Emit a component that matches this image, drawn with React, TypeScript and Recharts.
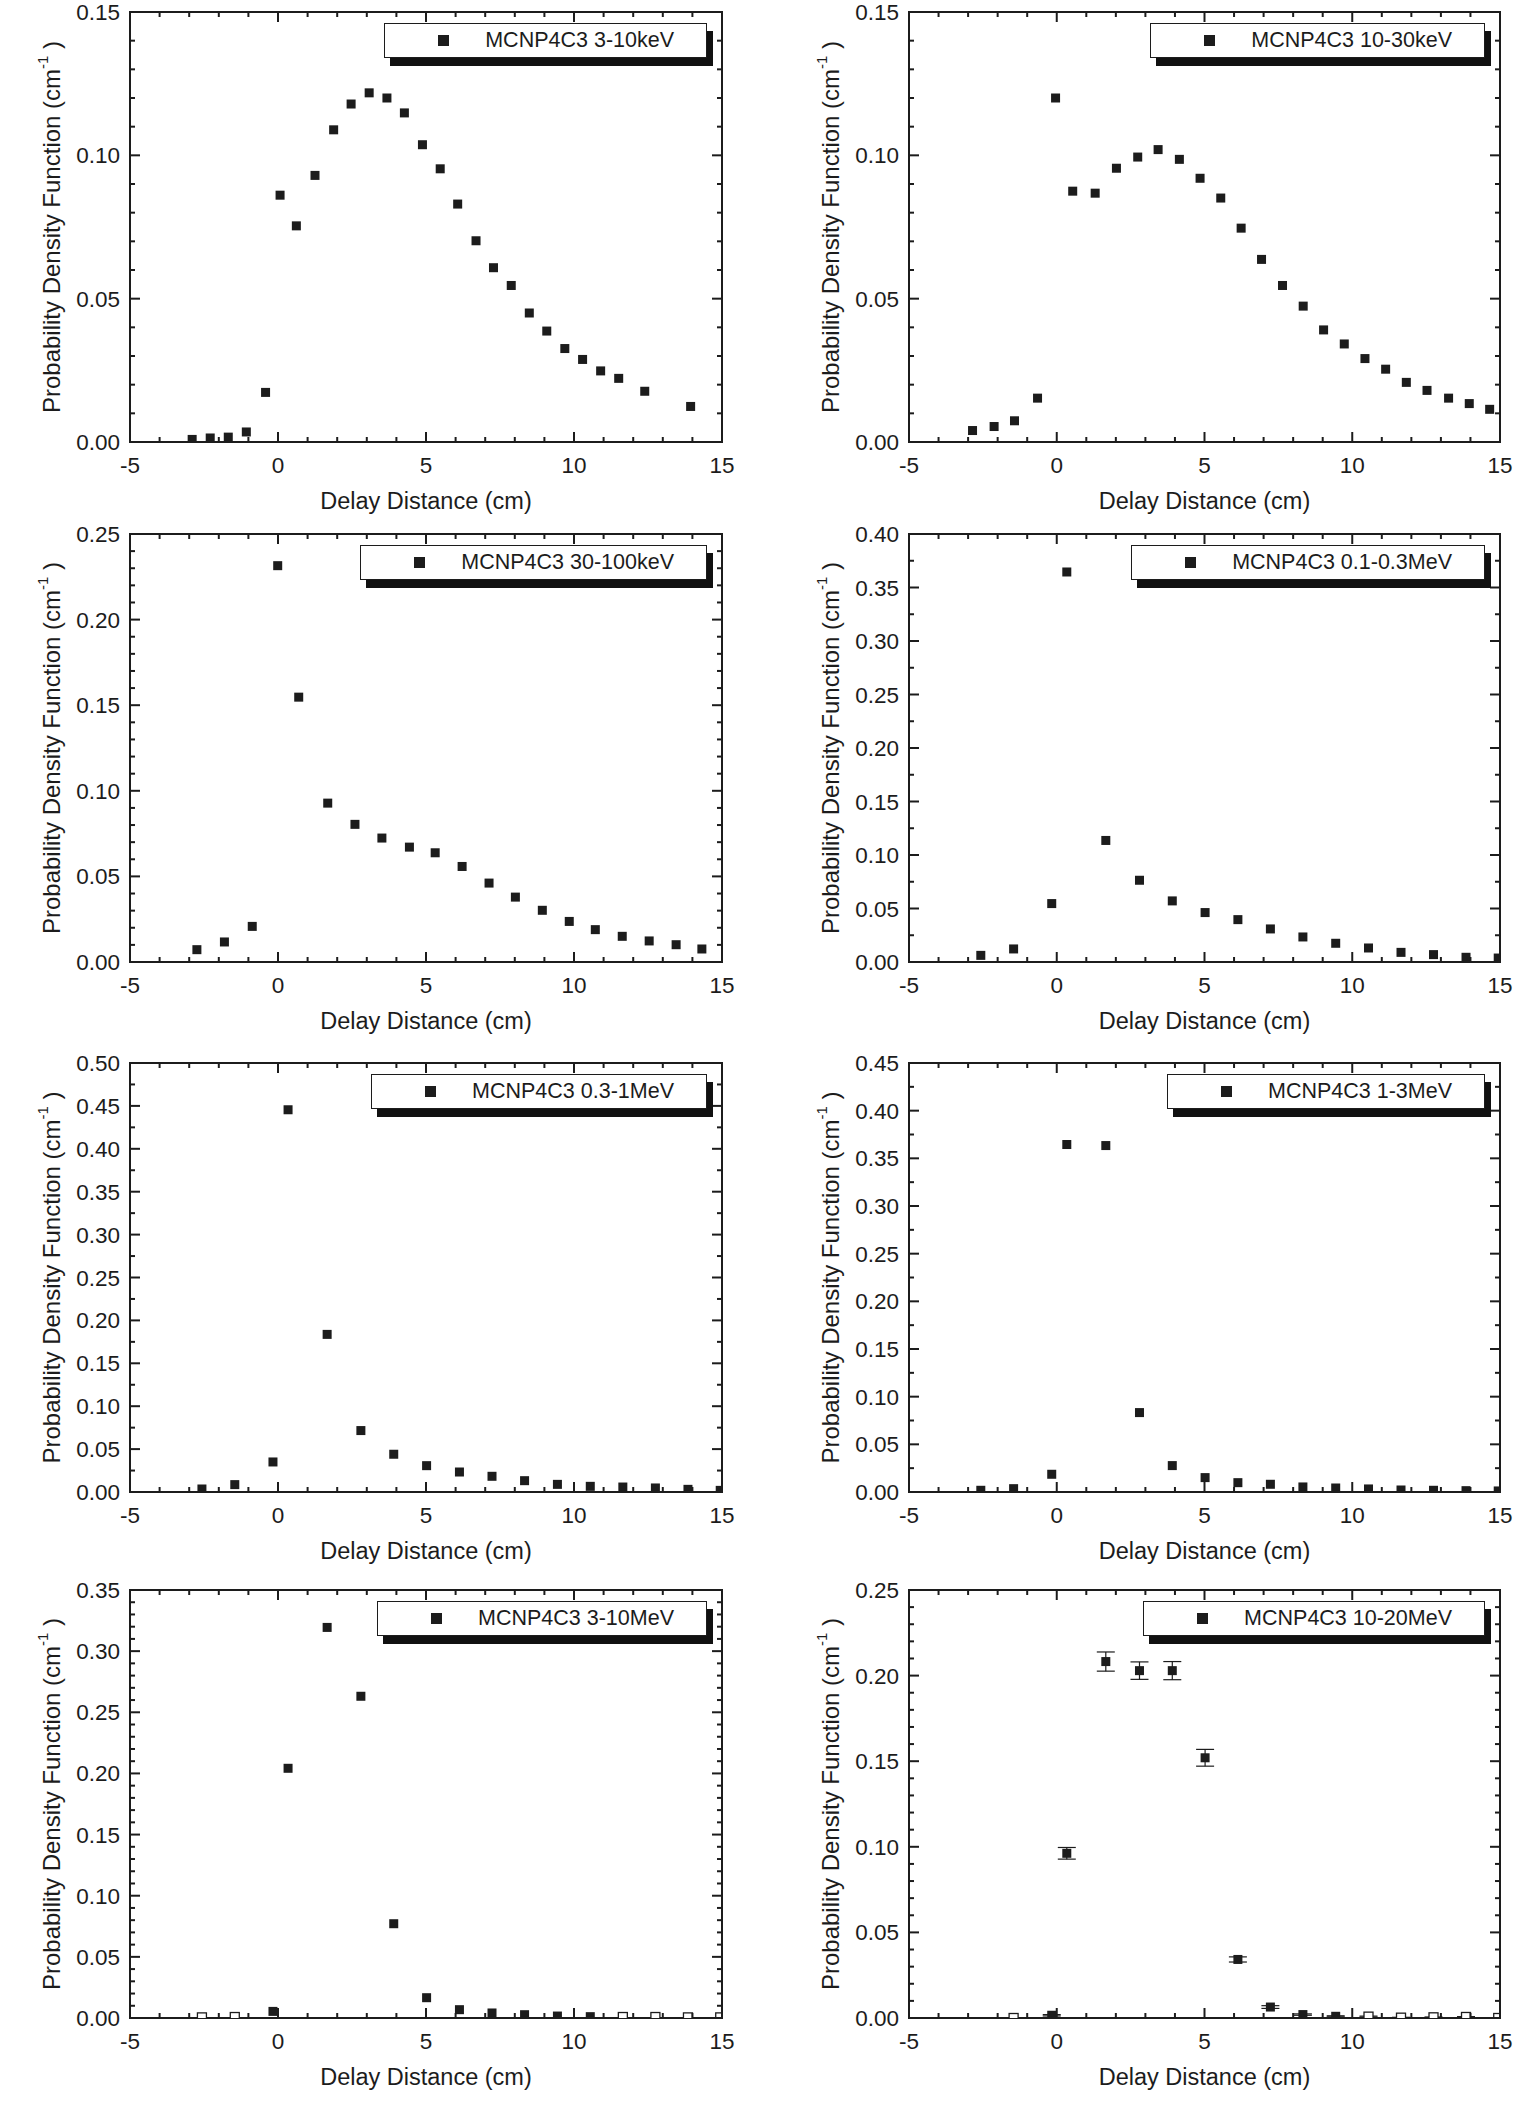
import React from "react";
import { ErrorBar, Legend, ReferenceArea, Scatter, ScatterChart, XAxis, YAxis } from "recharts";

const INK = "#1c1c1c";
const FONT = '"Liberation Sans", Arial, Helvetica, sans-serif';

// delay distance (cm) and probability density (1/cm), keV bands
const delay3to10keV = [-2.9, -2.29, -1.68, -1.07, -0.42, 0.07, 0.62, 1.25, 1.88, 2.47, 3.08, 3.68, 4.27, 4.88, 5.48, 6.07, 6.69, 7.28, 7.88, 8.49, 9.08, 9.69, 10.29, 10.9, 11.51, 12.39, 13.94];
const pdf3to10keV = [0.0009, 0.0014, 0.0017, 0.0035, 0.0173, 0.0861, 0.0754, 0.093, 0.1089, 0.1179, 0.1218, 0.12, 0.1148, 0.1037, 0.0953, 0.083, 0.0702, 0.0608, 0.0546, 0.045, 0.0387, 0.0326, 0.0288, 0.0248, 0.0222, 0.0177, 0.0124];

const delay10to30keV = [-2.85, -2.12, -1.43, -0.65, -0.04, 0.54, 1.3, 2.02, 2.74, 3.43, 4.15, 4.85, 5.55, 6.24, 6.93, 7.64, 8.34, 9.03, 9.73, 10.43, 11.13, 11.83, 12.53, 13.26, 13.96, 14.65];
const pdf10to30keV = [0.004, 0.0054, 0.0074, 0.0153, 0.12, 0.0875, 0.0868, 0.0955, 0.0994, 0.102, 0.0986, 0.092, 0.0851, 0.0746, 0.0637, 0.0546, 0.0474, 0.0391, 0.0342, 0.0291, 0.0254, 0.0208, 0.018, 0.0153, 0.0134, 0.0114];

const delay30to100keV = [-2.74, -1.81, -0.87, -0.01, 0.7, 1.68, 2.6, 3.51, 4.44, 5.31, 6.22, 7.13, 8.02, 8.93, 9.84, 10.72, 11.63, 12.54, 13.45, 14.32];
const pdf30to100keV = [0.0072, 0.0117, 0.0208, 0.2315, 0.1547, 0.0928, 0.0804, 0.0724, 0.0671, 0.0638, 0.0558, 0.0461, 0.0379, 0.0302, 0.0237, 0.0189, 0.015, 0.0123, 0.0101, 0.0076];

// MeV bands share one delay grid
const delayMeV = [-2.57, -1.46, -0.17, 0.34, 1.66, 2.8, 3.91, 5.02, 6.13, 7.23, 8.33, 9.44, 10.55, 11.65, 12.75, 13.85, 14.94];
const pdf01to03MeV = [0.0062, 0.0122, 0.0546, 0.3645, 0.1136, 0.0764, 0.0571, 0.0462, 0.0396, 0.0309, 0.0234, 0.0175, 0.0131, 0.009, 0.0069, 0.0044, 0.0037];
const pdf03to1MeV = [0.0035, 0.0086, 0.035, 0.4455, 0.1837, 0.0716, 0.044, 0.0307, 0.0233, 0.0183, 0.0132, 0.0089, 0.0066, 0.0058, 0.0047, 0.0031, 0.0019];
const pdf1to3MeV = [0.0018, 0.0035, 0.0186, 0.3645, 0.3634, 0.0833, 0.0277, 0.0151, 0.0098, 0.0081, 0.0053, 0.0042, 0.0032, 0.0021, 0.0018, 0.0014, 0.0011];
const pdf3to10MeV = [0.0005, 0.0008, 0.0054, 0.2042, 0.3194, 0.2631, 0.0771, 0.0166, 0.0068, 0.0041, 0.0027, 0.0016, 0.0011, 0.0008, 0.0008, 0.0005, 0.0005];

const delay10to20MeV = delayMeV.slice(1);
const pdf10to20MeV = [0.0, 0.0016, 0.0962, 0.2082, 0.2029, 0.2029, 0.152, 0.0342, 0.0064, 0.002, 0.001, 0.0008, 0.0002, 0.0004, 0.0006, 0.0];
const err10to20MeV = [0, 0.0004, 0.0034, 0.0056, 0.0051, 0.0053, 0.0049, 0.0015, 0.0008, 0.0004, 0.0003, 0.0003, 0.0002, 0.0002, 0.0002, 0];

const xTicks = [-5, -4, -3, -2, -1, 0, 1, 2, 3, 4, 5, 6, 7, 8, 9, 10, 11, 12, 13, 14, 15];
const xMajor = [-5, 0, 5, 10, 15];

const panels = [
  { name: "MCNP4C3 3-10keV", x: delay3to10keV, y: pdf3to10keV, yMax: 0.15, yMinor: 0.01 },
  { name: "MCNP4C3 10-30keV", x: delay10to30keV, y: pdf10to30keV, yMax: 0.15, yMinor: 0.01 },
  { name: "MCNP4C3 30-100keV", x: delay30to100keV, y: pdf30to100keV, yMax: 0.25, yMinor: 0.01 },
  { name: "MCNP4C3 0.1-0.3MeV", x: delayMeV, y: pdf01to03MeV, yMax: 0.4, yMinor: 0.025 },
  { name: "MCNP4C3 0.3-1MeV", x: delayMeV, y: pdf03to1MeV, yMax: 0.5, yMinor: 0.025 },
  { name: "MCNP4C3 1-3MeV", x: delayMeV, y: pdf1to3MeV, yMax: 0.45, yMinor: 0.025 },
  { name: "MCNP4C3 3-10MeV", x: delayMeV, y: pdf3to10MeV, yMax: 0.35, yMinor: 0.01 },
  { name: "MCNP4C3 10-20MeV", x: delay10to20MeV, y: pdf10to20MeV, err: err10to20MeV, yMax: 0.25, yMinor: 0.01 },
];

// page grid: plot-area tops/heights per row, chart offsets per column
const ROW_TOP = [12, 534, 1063, 1590];
const ROW_H = [430, 428, 429, 428];
const COL_LEFT = [0, 779];
const PLOT_W = [592, 591];
const CHART_W = 764;
const M_TOP = 20;
const M_LEFT = 50;
const Y_AXIS_W = 80;
const X_AXIS_H = 80;

const isMajorY = (v: number) => Math.abs(v / 0.05 - Math.round(v / 0.05)) < 1e-6;

function yTickValues(max: number, step: number) {
  const n = Math.round(max / step);
  return Array.from({ length: n + 1 }, (_, i) => +(i * step).toFixed(4));
}

function XTick(props: any) {
  const { x, y, payload, plotH } = props;
  const v = payload.value;
  const major = xMajor.includes(v);
  const len = major ? 10 : 5;
  return (
    <g>
      <line x1={x} x2={x} y1={y} y2={y - len} stroke={INK} strokeWidth={2} />
      <line x1={x} x2={x} y1={y - plotH} y2={y - plotH + len} stroke={INK} strokeWidth={2} />
      {major && (
        <text x={x} y={y + 31} textAnchor="middle" fontSize={22.5} fontFamily={FONT} fill={INK}>
          {v}
        </text>
      )}
    </g>
  );
}

function YTick(props: any) {
  const { x, y, payload, plotW } = props;
  const v = payload.value;
  const major = isMajorY(v);
  const len = major ? 10 : 5;
  return (
    <g>
      <line x1={x} x2={x + len} y1={y} y2={y} stroke={INK} strokeWidth={2} />
      <line x1={x + plotW} x2={x + plotW - len} y1={y} y2={y} stroke={INK} strokeWidth={2} />
      {major && (
        <text x={x - 10} y={y + 8} textAnchor="end" fontSize={22.5} fontFamily={FONT} fill={INK}>
          {v.toFixed(2)}
        </text>
      )}
    </g>
  );
}

function XTitle(props: any) {
  const vb = props.viewBox || {};
  return (
    <text x={vb.x + vb.width / 2} y={vb.y + 67} textAnchor="middle" fontSize={23.5} fontFamily={FONT} fill={INK}>
      Delay Distance (cm)
    </text>
  );
}

function YTitle(props: any) {
  const vb = props.viewBox || {};
  const cx = vb.x + vb.width - 79;
  const cy = vb.y + vb.height / 2;
  return (
    <text
      x={cx}
      y={cy}
      transform={`rotate(-90 ${cx} ${cy})`}
      textAnchor="middle"
      dominantBaseline="central"
      fontSize={24}
      fontFamily={FONT}
      fill={INK}
    >
      Probability Density Function (cm
      <tspan dy={-9} fontSize={15}>
        -1
      </tspan>
      <tspan dy={9}> )</tspan>
    </text>
  );
}

function SquareDot(props: any) {
  const { cx, cy, payload } = props;
  const s = 9;
  const hollow = payload.pdf <= 0.0008;
  return (
    <rect
      x={cx - s / 2}
      y={cy - s / 2}
      width={s}
      height={s}
      fill={hollow ? "#fff" : INK}
      stroke={INK}
      strokeWidth={hollow ? 1.3 : 0}
    />
  );
}

function LegendBox({ payload }: any) {
  const item = payload && payload[0];
  if (!item) return null;
  return (
    <div
      style={{
        position: "relative",
        display: "inline-block",
        height: 35,
        boxSizing: "border-box",
        border: `1px solid ${INK}`,
        background: "#fff",
        boxShadow: "6px 8px 0 #111",
        paddingLeft: 100,
        paddingRight: 32,
        fontFamily: FONT,
        fontSize: 21.5,
        lineHeight: "33px",
        color: INK,
        whiteSpace: "nowrap",
      }}
    >
      <span style={{ position: "absolute", left: 53, top: 11, width: 11, height: 11, background: INK }} />
      {item.value}
    </div>
  );
}

function Panel({ p, index }: { p: any; index: number }) {
  const row = Math.floor(index / 2);
  const col = index % 2;
  const plotH = ROW_H[row];
  const plotW = PLOT_W[col];
  const marginRight = CHART_W - M_LEFT - Y_AXIS_W - plotW;
  const height = M_TOP + plotH + X_AXIS_H;
  const data = p.x.map((d: number, i: number) => ({ delay: d, pdf: p.y[i], err: p.err ? p.err[i] : 0 }));

  return (
    <div style={{ position: "absolute", left: COL_LEFT[col], top: ROW_TOP[row] - M_TOP }}>
      <ScatterChart width={CHART_W} height={height} margin={{ top: M_TOP, right: marginRight, bottom: 0, left: M_LEFT }}>
        <XAxis
          type="number"
          dataKey="delay"
          domain={[-5, 15]}
          ticks={xTicks}
          interval={0}
          height={X_AXIS_H}
          axisLine={false}
          tickLine={false}
          tickSize={0}
          tickMargin={0}
          tick={(t: any) => <XTick {...t} plotH={plotH} />}
          label={<XTitle />}
          allowDataOverflow
        />
        <YAxis
          type="number"
          dataKey="pdf"
          domain={[0, p.yMax]}
          ticks={yTickValues(p.yMax, p.yMinor)}
          interval={0}
          width={Y_AXIS_W}
          axisLine={false}
          tickLine={false}
          tickSize={0}
          tickMargin={0}
          tick={(t: any) => <YTick {...t} plotW={plotW} />}
          label={<YTitle />}
          allowDataOverflow
        />
        <ReferenceArea x1={-5} x2={15} y1={0} y2={p.yMax} fill="none" stroke={INK} strokeWidth={2} ifOverflow="visible" />
        <Scatter name={p.name} data={data} fill={INK} shape={<SquareDot />} isAnimationActive={false}>
          {p.err && <ErrorBar dataKey="err" direction="y" width={9} stroke={INK} strokeWidth={1.2} />}
        </Scatter>
        <Legend
          layout="vertical"
          align="center"
          verticalAlign="middle"
          content={<LegendBox />}
          wrapperStyle={{ top: M_TOP + 11, right: marginRight + 15, left: "auto", width: "auto", height: "auto" }}
        />
      </ScatterChart>
    </div>
  );
}

export default function App() {
  return (
    <div style={{ position: "absolute", left: 0, top: 0, width: 1528, height: 2110, background: "#fff" }}>
      {panels.map((p, i) => (
        <Panel key={p.name} p={p} index={i} />
      ))}
    </div>
  );
}
